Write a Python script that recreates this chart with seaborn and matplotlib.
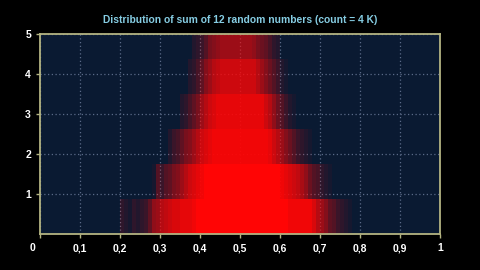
import matplotlib
matplotlib.use("Agg")
import matplotlib.pyplot as plt
import seaborn as sns
import numpy as np

# ---- data ----
title = "Distribution of sum of 12 random numbers (count = 4 K)"
x_ticks = [0, 0.1, 0.2, 0.3, 0.4, 0.5, 0.6, 0.7, 0.8, 0.9, 1.0]
x_tick_labels = ["", "0,1", "0,2", "0,3", "0,4", "0,5", "0,6", "0,7", "0,8", "0,9", "1"]
y_ticks = [1, 2, 3, 4, 5]
y_tick_labels = ["1", "2", "3", "4", "5"]
level_unit = 0.875          # height of one count step
col_width = 0.01
x_left = [round(0.19 + 0.01 * i, 2) for i in range(60)]   # 0.19 .. 0.78

# red coverage (0..1) per column, per count level
level1 = [0.00, 0.15, 0.10, 0.05, 0.15, 0.10, 0.15, 0.20, 0.35, 0.55,
          0.60, 0.70, 0.75, 0.80, 0.85, 0.85, 0.90, 0.90, 0.90, 0.95,
          1.00, 1.00, 1.00, 1.00, 1.00, 1.00, 1.00, 1.00, 1.00, 1.00,
          1.00, 1.00, 1.00, 1.00, 1.00, 1.00, 1.00, 1.00, 1.00, 1.00,
          1.00, 1.00, 1.00, 0.95, 0.95, 0.95, 0.95, 0.95, 0.95, 0.85,
          0.70, 0.60, 0.50, 0.35, 0.30, 0.20, 0.15, 0.10, 0.05, 0.00]
level2 = [0.00, 0.00, 0.00, 0.00, 0.00, 0.00, 0.00, 0.00, 0.00, 0.05,
          0.30, 0.20, 0.30, 0.35, 0.45, 0.50, 0.60, 0.70, 0.80, 0.85,
          0.90, 0.95, 1.00, 1.00, 1.00, 1.00, 1.00, 1.00, 1.00, 1.00,
          1.00, 1.00, 1.00, 1.00, 1.00, 1.00, 1.00, 1.00, 1.00, 1.00,
          1.00, 0.95, 0.90, 0.85, 0.80, 0.75, 0.65, 0.55, 0.40, 0.30,
          0.25, 0.15, 0.10, 0.05, 0.00, 0.00, 0.00, 0.00, 0.00, 0.00]
level3 = [0.00, 0.00, 0.00, 0.00, 0.00, 0.00, 0.00, 0.00, 0.00, 0.00,
          0.00, 0.00, 0.00, 0.10, 0.20, 0.25, 0.35, 0.45, 0.50, 0.60,
          0.70, 0.80, 0.85, 0.90, 0.95, 0.95, 0.95, 0.95, 0.95, 0.95,
          0.95, 0.95, 0.95, 0.95, 0.95, 0.95, 0.95, 0.95, 0.90, 0.80,
          0.70, 0.60, 0.50, 0.40, 0.30, 0.20, 0.15, 0.10, 0.05, 0.00,
          0.00, 0.00, 0.00, 0.00, 0.00, 0.00, 0.00, 0.00, 0.00, 0.00]
level4 = [0.00, 0.00, 0.00, 0.00, 0.00, 0.00, 0.00, 0.00, 0.00, 0.00,
          0.00, 0.00, 0.00, 0.00, 0.00, 0.00, 0.10, 0.15, 0.25, 0.35,
          0.45, 0.60, 0.70, 0.80, 0.85, 0.90, 0.90, 0.90, 0.90, 0.90,
          0.90, 0.90, 0.90, 0.90, 0.90, 0.90, 0.90, 0.80, 0.70, 0.55,
          0.40, 0.30, 0.20, 0.10, 0.05, 0.00, 0.00, 0.00, 0.00, 0.00,
          0.00, 0.00, 0.00, 0.00, 0.00, 0.00, 0.00, 0.00, 0.00, 0.00]
level5 = [0.00, 0.00, 0.00, 0.00, 0.00, 0.00, 0.00, 0.00, 0.00, 0.00,
          0.00, 0.00, 0.00, 0.00, 0.00, 0.00, 0.00, 0.00, 0.10, 0.15,
          0.25, 0.35, 0.50, 0.60, 0.70, 0.75, 0.80, 0.80, 0.80, 0.80,
          0.80, 0.80, 0.80, 0.80, 0.80, 0.70, 0.60, 0.50, 0.40, 0.30,
          0.20, 0.10, 0.05, 0.00, 0.00, 0.00, 0.00, 0.00, 0.00, 0.00,
          0.00, 0.00, 0.00, 0.00, 0.00, 0.00, 0.00, 0.00, 0.00, 0.00]
level6 = [0.00, 0.00, 0.00, 0.00, 0.00, 0.00, 0.00, 0.00, 0.00, 0.00,
          0.00, 0.00, 0.00, 0.00, 0.00, 0.00, 0.00, 0.00, 0.00, 0.10,
          0.15, 0.20, 0.30, 0.45, 0.50, 0.55, 0.60, 0.60, 0.60, 0.60,
          0.60, 0.60, 0.60, 0.60, 0.55, 0.45, 0.40, 0.35, 0.25, 0.15,
          0.10, 0.00, 0.00, 0.00, 0.00, 0.00, 0.00, 0.00, 0.00, 0.00,
          0.00, 0.00, 0.00, 0.00, 0.00, 0.00, 0.00, 0.00, 0.00, 0.00]
levels = [level1, level2, level3, level4, level5, level6]

# ---- style ----
sns.set_style("dark")
plt.rcParams["font.family"] = ["Liberation Sans", "DejaVu Sans"]

bg_plot = "#0a1a32"
spine_col = "#b4b482"
grid_col = "#5a6a88"

fig = plt.figure(figsize=(4.8, 2.7), dpi=100, facecolor="black")
ax = fig.add_axes([40 / 480, 36 / 270, 400 / 480, 200 / 270])
ax.set_facecolor(bg_plot)

for k, lev in enumerate(levels):
    cols = [(1.0, 0.02, 0.02, a) for a in lev]
    ax.bar(x_left, [level_unit] * len(x_left), width=col_width,
           bottom=k * level_unit, align="edge", color=cols,
           linewidth=0, zorder=2)

ax.set_xlim(0, 1)
ax.set_ylim(0, 5)
ax.set_xticks(x_ticks)
ax.set_xticklabels(x_tick_labels)
ax.set_yticks(y_ticks)
ax.set_yticklabels(y_tick_labels)
ax.text(-0.02, -0.045, "0", transform=ax.get_xaxis_transform(),
        ha="center", va="top", color="white", fontsize=7.5, fontweight="bold")

ax.grid(True, color=grid_col, linestyle=(0, (1, 2)), linewidth=0.9, zorder=1)
ax.set_axisbelow(True)
for s in ax.spines.values():
    s.set_visible(True)
    s.set_color(spine_col)
    s.set_linewidth(1.3)
    s.set_zorder(3)

ax.tick_params(axis="both", colors=spine_col, labelcolor="white",
               labelsize=7.5, length=3, width=1.0, direction="out",
               bottom=True, left=True)
for lab in ax.get_xticklabels() + ax.get_yticklabels():
    lab.set_fontweight("bold")

fig.text(0.5, 1 - 20 / 270, title, ha="center", va="center",
         color="#86cde3", fontsize=7.4, fontweight="bold")

fig.savefig("out.png", dpi=100, facecolor="black")
